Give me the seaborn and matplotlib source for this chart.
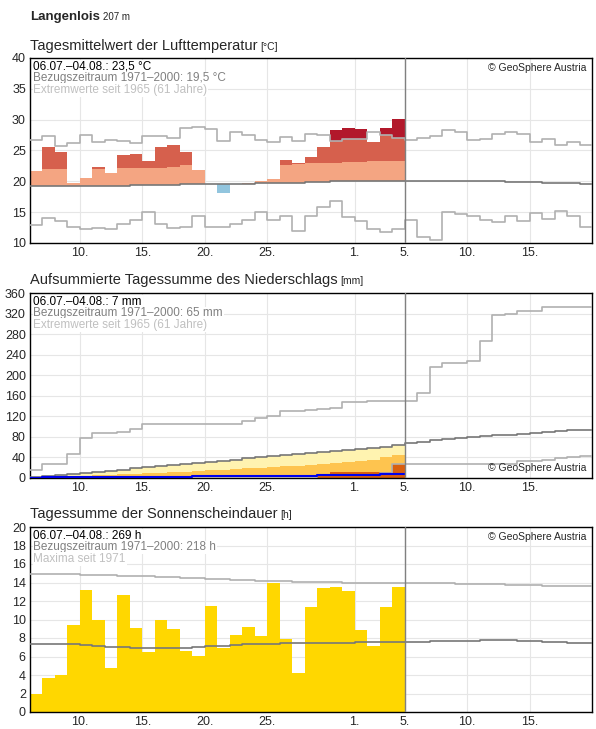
import numpy as np
import matplotlib
matplotlib.use("Agg")
import matplotlib.pyplot as plt
import seaborn as sns

sns.set_style("whitegrid")
plt.rcParams['font.family'] = ['Liberation Sans', 'DejaVu Sans']

# days from 06.07. (index 0) to 19.08. (index 44); observed data 06.07.-04.08.
tick_pos = [4, 9, 14, 19, 26, 30, 35, 40]
tick_lbl = ["10.", "15.", "20.", "25.", "1.", "5.", "10.", "15."]

# temperature (deg C)
temp = [21.7, 25.6, 24.7, 19.8, 20.6, 22.4, 21.4, 24.3, 24.4, 23.3, 25.6, 25.9, 24.8, 21.9, 19.5,
        18.1, 19.6, 19.8, 20.1, 20.3, 23.5, 22.9, 23.9, 25.6, 28.3, 28.7, 28.5, 26.3, 28.6, 30.1]
temp_upper = [22.0, 22.0, 22.0, 22.0, 22.0, 22.0, 22.1, 22.2, 22.2, 22.2, 22.2, 22.4, 22.6, 22.6, 22.6,
              22.6, 22.6, 22.6, 22.6, 22.6, 22.7, 22.8, 23.0, 23.0, 23.0, 23.1, 23.2, 23.3, 23.3, 23.3]
temp_clim = [19.3, 19.3, 19.3, 19.3, 19.3, 19.3, 19.3, 19.3, 19.4, 19.4, 19.4, 19.4, 19.5, 19.6, 19.6,
             19.6, 19.6, 19.6, 19.7, 19.7, 19.8, 19.8, 19.9, 19.9, 20.0, 20.0, 20.1, 20.1, 20.1, 20.1,
             20.1, 20.1, 20.1, 20.1, 20.1, 20.0, 20.0, 20.0, 19.9, 19.9, 19.9, 19.8, 19.8, 19.7, 19.5]
temp_max = [26.7, 27.3, 25.7, 26.2, 27.5, 26.3, 26.7, 26.5, 26.2, 27.3, 27.3, 27.0, 28.6, 28.8, 28.5,
            26.5, 28.0, 27.5, 26.7, 26.3, 27.2, 26.5, 27.7, 27.5, 26.6, 26.8, 26.8, 28.0, 27.5, 27.0,
            26.7, 27.1, 27.3, 28.4, 28.0, 26.7, 26.9, 27.7, 28.0, 27.7, 26.3, 26.9, 25.9, 26.4, 25.9]
temp_min = [12.9, 14.0, 13.5, 12.6, 12.2, 12.5, 12.3, 13.1, 13.7, 15.0, 13.0, 12.4, 12.6, 14.4, 12.6,
            12.6, 13.1, 13.8, 15.0, 13.8, 14.3, 12.0, 14.3, 15.9, 16.8, 14.2, 13.6, 12.3, 11.8, 12.2,
            13.7, 11.0, 10.5, 15.0, 14.7, 14.4, 13.7, 13.4, 14.3, 13.6, 14.9, 13.9, 15.2, 14.3, 12.6]

# cumulative precipitation (mm)
prec_obs = [0, 2, 2, 2, 2, 2, 2, 2, 2, 2, 2, 2, 2, 4, 4,
            4, 4, 4, 4, 4, 4, 4, 4, 5, 5, 5, 5, 5, 7, 7]
prec_dark = [0, 0, 0, 0, 0, 0, 0, 0, 0, 0, 0, 0, 0, 0, 0,
             0, 0, 0, 0, 0, 0, 0, 0, 5, 12, 12, 12, 12, 12, 28]
prec_mid = [0, 1, 2, 3, 4, 5, 6, 7, 8, 9, 10, 11, 12, 14, 15,
            16, 17, 19, 20, 21, 23, 24, 26, 28, 30, 32, 34, 36, 40, 45]
prec_clim = [2, 4, 6, 8, 10, 12, 14, 16, 19, 21, 23, 26, 28, 30, 32,
             34, 36, 38, 40, 42, 44, 46, 48, 50, 52, 54, 56, 58, 61, 65,
             68, 71, 74, 76, 78, 80, 81, 83, 84, 86, 87, 89, 91, 93, 94]
prec_max = [15, 27, 27, 46, 77, 87, 87, 89, 96, 106, 106, 106, 106, 106, 106,
            106, 106, 110, 116, 120, 130, 131, 133, 134, 137, 147, 148, 150, 150, 150,
            150, 166, 216, 224, 224, 227, 267, 317, 320, 325, 325, 333, 333, 333, 333]
prec_min = [0, 0, 0, 0, 0, 0, 0, 0, 0, 0, 0, 0, 0, 2, 2,
            2, 2, 2, 2, 2, 2, 2, 2, 5, 5, 5, 5, 5, 10, 28,
            28, 28, 28, 28, 28, 28, 28, 28, 28, 33, 34, 35, 38, 40, 42]

# sunshine duration (h)
sun = [2.0, 3.7, 4.0, 9.4, 13.2, 9.9, 4.8, 12.6, 9.1, 6.5, 9.9, 9.0, 6.6, 6.1, 11.5,
       6.9, 8.3, 9.2, 8.2, 13.9, 7.9, 4.2, 11.4, 13.4, 13.5, 13.1, 8.9, 7.1, 11.4, 13.5]
sun_clim = [7.4, 7.3, 7.3, 7.3, 7.2, 7.1, 7.0, 7.0, 6.9, 6.9, 6.9, 6.9, 6.9, 7.0, 7.1,
            7.1, 7.2, 7.3, 7.3, 7.4, 7.5, 7.5, 7.5, 7.5, 7.5, 7.5, 7.6, 7.6, 7.6, 7.6,
            7.6, 7.6, 7.7, 7.7, 7.7, 7.7, 7.8, 7.8, 7.8, 7.7, 7.7, 7.6, 7.6, 7.5, 7.5]
sun_max = [14.9, 14.9, 14.9, 14.9, 14.8, 14.8, 14.8, 14.7, 14.7, 14.7, 14.6, 14.6, 14.5, 14.5, 14.4,
           14.4, 14.3, 14.3, 14.2, 14.2, 14.2, 14.1, 14.1, 14.1, 14.1, 14.0, 14.0, 14.0, 14.0, 14.0,
           13.9, 13.9, 13.9, 13.9, 13.8, 13.8, 13.8, 13.8, 13.7, 13.7, 13.7, 13.6, 13.6, 13.6, 13.6]

n_obs = len(temp)
n_all = len(temp_clim)
x_obs = np.arange(n_obs)
W, H = 596, 729


def step(ax, y, color, lw=1.2):
    y = list(y)
    ax.step(np.arange(len(y) + 1), y + [y[-1]], where="post", color=color, lw=lw, zorder=3)


def bars(ax, h, bottom, color):
    ax.bar(x_obs, h, bottom=bottom, width=1, align="edge", color=color, linewidth=0, zorder=2)


def title_with_unit(x, y, title, unit, size, usize, weight="normal"):
    # put the small unit right after the title text (figure pixel coords)
    t = fig.text(x / W, 1 - y / H, title, fontsize=size, weight=weight, va="baseline")
    fig.canvas.draw()
    w = t.get_window_extent(fig.canvas.get_renderer()).width
    fig.text((x + w + 3) / W, 1 - y / H, unit, fontsize=usize, va="baseline")


def setup(ax, ylim, yticks, lines, copy_top=True):
    ax.set_xlim(0, n_all)
    ax.set_ylim(*ylim)
    ax.set_yticks(yticks)
    ax.set_xticks(tick_pos)
    ax.set_xticklabels(tick_lbl)
    ax.tick_params(labelsize=9, length=0, pad=3)
    ax.grid(color="#e6e6e6", lw=0.8)
    for s in ax.spines.values():
        s.set_color("black")
        s.set_linewidth(1)
    ax.axvline(n_obs, color="#808080", lw=1, zorder=4)
    cols = ["black", "#808080", "#c0c0c0"]
    for i, (txt, c) in enumerate(zip(lines, cols)):
        ax.text(0.006, 0.985 - i * 0.063, txt, transform=ax.transAxes, fontsize=8.5, color=c,
                va="top", zorder=6, bbox=dict(facecolor="white", edgecolor="none", pad=0.6))
    if copy_top:
        ax.text(0.99, 0.975, "© GeoSphere Austria", transform=ax.transAxes, fontsize=7.5,
                ha="right", va="top", zorder=6)
    else:
        ax.text(0.99, 0.025, "© GeoSphere Austria", transform=ax.transAxes, fontsize=7.5,
                ha="right", va="bottom", zorder=6)


fig = plt.figure(figsize=(5.96, 7.29), dpi=100)
def axes_px(l, t, r, b):
    return fig.add_axes([l / W, 1 - b / H, (r - l) / W, (b - t) / H])

title_with_unit(30, 20, "Langenlois", "207 m", 9.5, 7, weight="bold")

# panel 1: temperature
ax1 = axes_px(30, 58, 592, 243)
clim = np.array(temp_clim[:n_obs])
t = np.array(temp)
up = np.array(temp_upper)
mx = np.array(temp_max[:n_obs])
light_top = np.where(t > clim, np.minimum(t, up), clim)
bars(ax1, light_top - clim, clim, "#f4a582")
mid_top = np.where(t > up, np.minimum(t, mx), up)
bars(ax1, np.maximum(mid_top - up, 0), up, "#d6604d")
bars(ax1, np.maximum(t - mx, 0), mx, "#b2182b")
bars(ax1, np.where(t < clim - 0.3, t - clim, 0), clim, "#92c5de")
step(ax1, temp_max, "#b0b0b0")
step(ax1, temp_min, "#b0b0b0")
step(ax1, temp_clim, "#777777")
setup(ax1, (10, 40), range(10, 41, 5),
      ["06.07.–04.08.: 23,5 °C", "Bezugszeitraum 1971–2000: 19,5 °C", "Extremwerte seit 1965 (61 Jahre)"])
title_with_unit(30, 50, "Tagesmittelwert der Lufttemperatur", "[°C]", 10.5, 7.5)

# panel 2: precipitation
ax2 = axes_px(30, 293, 592, 478)
bars(ax2, prec_clim[:n_obs], 0, "#fff3b0")
bars(ax2, prec_mid, 0, "#fec44f")
bars(ax2, prec_dark, 0, "#d95f0e")
step(ax2, prec_max, "#b0b0b0")
step(ax2, prec_min, "#b0b0b0")
step(ax2, prec_clim, "#777777")
step(ax2, prec_obs, "#0000ee", lw=1.5)
setup(ax2, (0, 360), range(0, 361, 40),
      ["06.07.–04.08.: 7 mm", "Bezugszeitraum 1971–2000: 65 mm", "Extremwerte seit 1965 (61 Jahre)"],
      copy_top=False)
title_with_unit(30, 284, "Aufsummierte Tagessumme des Niederschlags", "[mm]", 10.5, 7.5)

# panel 3: sunshine
ax3 = axes_px(30, 527, 592, 712)
bars(ax3, sun, 0, "#ffd700")
step(ax3, sun_max, "#b0b0b0")
step(ax3, sun_clim, "#777777")
setup(ax3, (0, 20), range(0, 21, 2),
      ["06.07.–04.08.: 269 h", "Bezugszeitraum 1971–2000: 218 h", "Maxima seit 1971"])
title_with_unit(30, 518, "Tagessumme der Sonnenscheindauer", "[h]", 10.5, 7.5)

fig.savefig("out.png", dpi=100)
